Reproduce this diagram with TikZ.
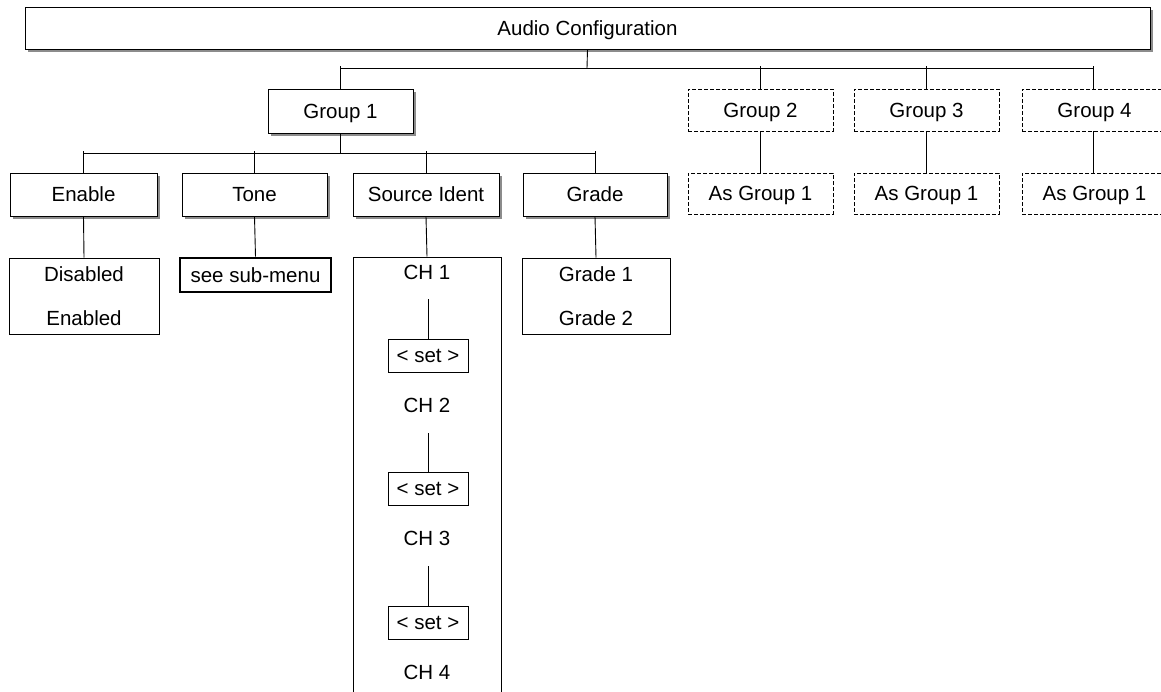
\documentclass[tikz,border=0pt]{standalone}
\usepackage{fontspec}
\setmainfont{Liberation Sans}
\usetikzlibrary{shadows}
\begin{document}
\begin{tikzpicture}[x=1pt,y=-1pt,
  every node/.style={font=\fontsize{20.5}{24}\selectfont, inner sep=0pt, text height=17pt, text depth=3pt},
  box/.style={draw, line width=1pt, fill=white, minimum width=#1, minimum height=43pt},
  sbox/.style={box=#1, drop shadow={shadow xshift=3pt, shadow yshift=-3pt, fill=black!45, opacity=1}},
  dbox/.style={box=#1, dash pattern=on 4pt off 2pt, line width=0.8pt},
  plain/.style={draw, line width=1pt, fill=white},
  conn/.style={line width=0.9pt}
]
\clip (0,0) rectangle (1161,691);
\fill[white] (0,0) rectangle (1161,691);

% level 0
\node[sbox=1125pt, minimum height=42pt] (top) at (587.5,28) {Audio Configuration};

% level 1
\node[sbox=145pt, minimum height=44pt] (g1) at (340.5,111) {Group 1};
\node[dbox=145pt, minimum height=42pt] (g2) at (760.5,110) {Group 2};
\node[dbox=145pt, minimum height=42pt] (g3) at (926.5,110) {Group 3};
\node[dbox=145pt, minimum height=42pt] (g4) at (1094.5,110) {Group 4};

\node[dbox=145pt, minimum height=41pt] (a2) at (760.5,193.5) {As Group 1};
\node[dbox=145pt, minimum height=41pt] (a3) at (926.5,193.5) {As Group 1};
\node[dbox=145pt, minimum height=41pt] (a4) at (1094.5,193.5) {As Group 1};

% level 2
\node[sbox=147pt] (en) at (83.5,194.5) {Enable};
\node[sbox=145pt] (to) at (254.5,194.5) {Tone};
\node[sbox=146pt] (si) at (426,194.5) {Source Ident};
\node[sbox=144pt] (gr) at (595,194.5) {Grade};

% level 3
\node[plain, minimum width=150pt, minimum height=76pt, align=center,
      font=\fontsize{20.5}{44}\selectfont, text height=, text depth=] (dis) at (84,296) {Disabled\\Enabled};
\node[draw, line width=2.6pt, fill=white, minimum width=151pt, minimum height=34pt] (sub) at (255.5,275) {see sub-menu};
\node[plain, minimum width=148pt, minimum height=435pt] (chb) at (427,474.5) {};
\node[plain, minimum width=148pt, minimum height=76pt, align=center,
      font=\fontsize{20.5}{44}\selectfont, text height=, text depth=] (grb) at (596,296) {Grade 1\\Grade 2};

% source ident channels
\node (ch1) at (427,272) {CH 1};
\node[plain, minimum width=80pt, minimum height=33pt] (s1) at (428,355.5) {< set >};
\node (ch2) at (427,405) {CH 2};
\node[plain, minimum width=80pt, minimum height=33pt] (s2) at (428,488.5) {< set >};
\node (ch3) at (427,538) {CH 3};
\node[plain, minimum width=80pt, minimum height=33pt] (s3) at (428,622.5) {< set >};
\node (ch4) at (427,672) {CH 4};

% connectors level 0 -> 1
\coordinate (b0) at (587,68);
\draw[conn] (top.south) -- (b0);
\draw[conn] (g1 |- b0) -- (1093,68);
\draw[conn] ([yshift=2pt]g1 |- b0) -- (g1.north);
\draw[conn] ([yshift=2pt]g2 |- b0) -- (g2.north);
\draw[conn] ([yshift=2pt]g3 |- b0) -- (g3.north);
\draw[conn] ([yshift=2pt]1093,68) -- (1093,89);
\draw[conn] (g2.south) -- (a2.north);
\draw[conn] (g3.south) -- (a3.north);
\draw[conn] (1093,131) -- (1093,173);

% connectors level 1 -> 2
\coordinate (b1) at (340.5,153);
\draw[conn] (g1.south) -- (b1);
\draw[conn] (en |- b1) -- (gr |- b1);
\draw[conn] ([yshift=2pt]en |- b1) -- (en.north);
\draw[conn] ([yshift=2pt]to |- b1) -- (to.north);
\draw[conn] ([yshift=2pt]si |- b1) -- (si.north);
\draw[conn] ([yshift=2pt]gr |- b1) -- (gr.north);

% level 2 -> 3
\draw[conn] (en.south) -- (dis.north);
\draw[conn] (to.south) -- (sub.north);
\draw[conn] (si.south) -- (chb.north);
\draw[conn] (gr.south) -- (grb.north);

% channel connectors
\draw[conn] (s1.north |- 0,299) -- (s1.north);
\draw[conn] (s2.north |- 0,433) -- (s2.north);
\draw[conn] (s3.north |- 0,566) -- (s3.north);
\end{tikzpicture}
\end{document}
